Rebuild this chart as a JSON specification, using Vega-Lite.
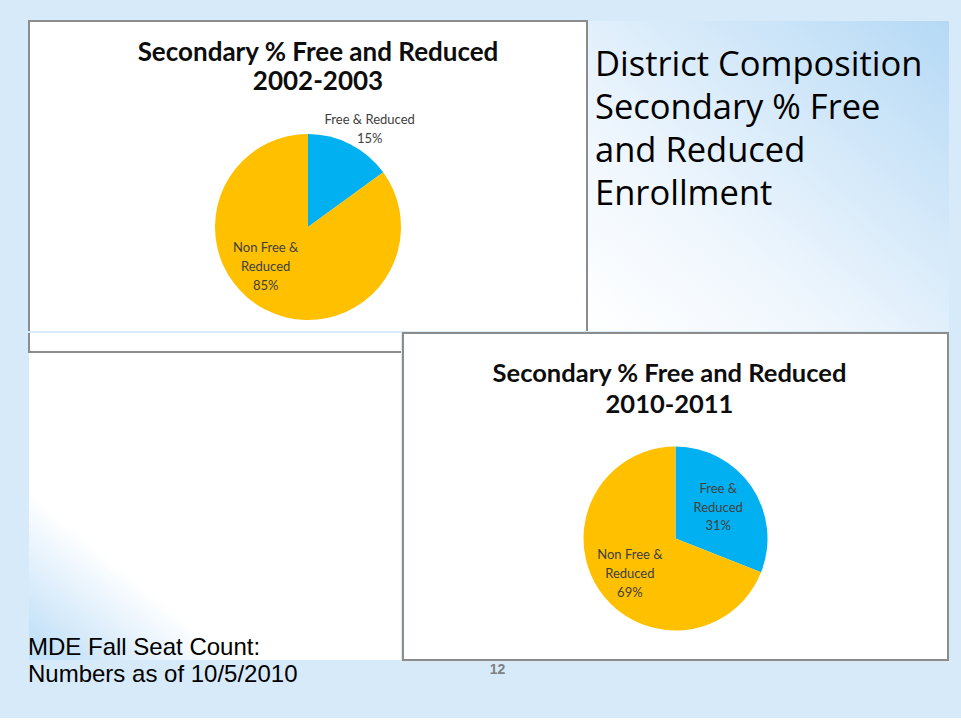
{
  "$schema": "https://vega.github.io/schema/vega-lite/v6.json",
  "background": "#d6eaf9",
  "padding": {"left": 28, "top": 20, "right": 12, "bottom": 31},
  "config": {
    "view": {"stroke": null},
    "concat": {"spacing": 0},
    "text": {"font": "Lato", "fontSize": 13, "color": "#404040", "lineBreak": "\n", "lineHeight": 19, "align": "center", "baseline": "middle"}
  },
  "datasets": {
    "y2002": [
      {"category": "Free & Reduced", "value": 15, "label": "Free & Reduced\n15%"},
      {"category": "Non Free & Reduced", "value": 85, "label": "Non Free &\nReduced\n85%"}
    ],
    "y2010": [
      {"category": "Free & Reduced", "value": 31, "label": "Free &\nReduced\n31%"},
      {"category": "Non Free & Reduced", "value": 69, "label": "Non Free &\nReduced\n69%"}
    ],
    "blank": [{"k": 1}]
  },
  "title": {"text": "12", "orient": "bottom", "anchor": "middle", "offset": -24, "dx": 9, "font": "Liberation Sans", "fontSize": 14, "fontWeight": "bold", "color": "#7f7f7f"},
  "spacing": 0,
  "vconcat": [
    {
      "spacing": 0,
      "hconcat": [
        {
          "width": 558,
          "height": 310,
          "view": {"stroke": "#8c8c8c", "strokeWidth": 2, "strokeDash": [868, 558, 400], "fill": "#ffffff"},
          "title": {"text": ["Secondary % Free and Reduced", "2002-2003"], "font": "Lato", "fontSize": 26, "fontWeight": "bold", "color": "#0d0d0d", "lineHeight": 29, "anchor": "middle", "offset": -74, "dx": 10, "frame": "group"},
          "data": {"name": "y2002"},
          "encoding": {
            "theta": {"field": "value", "type": "quantitative", "stack": true},
            "order": {"field": "category"}
          },
          "layer": [
            {"mark": {"type": "arc", "outerRadius": 93, "yOffset": 51},
             "encoding": {"color": {"field": "category", "type": "nominal", "legend": null, "scale": {"domain": ["Free & Reduced", "Non Free & Reduced"], "range": ["#00B0F0", "#FFC000"]}}}},
            {"mark": {"type": "text", "radius": 116, "yOffset": 51, "dx": 9, "dy": -4, "color": "#404040"},
             "encoding": {
               "text": {"condition": {"test": "datum.category === 'Free & Reduced'", "field": "label"}, "value": ""},
               "size": {"condition": {"test": "datum.category === 'Free & Reduced'", "value": 13}, "value": 0}
             }},
            {"mark": {"type": "text", "radius": 58, "yOffset": 51, "dx": -16, "dy": -31, "color": "#404040"},
             "encoding": {
               "text": {"condition": {"test": "datum.category === 'Non Free & Reduced'", "field": "label"}, "value": ""},
               "size": {"condition": {"test": "datum.category === 'Non Free & Reduced'", "value": 13}, "value": 0}
             }}
          ]
        },
        {
          "width": 361,
          "height": 310,
          "view": {"fill": {"gradient": "linear", "x1": 0, "y1": 1, "x2": 1, "y2": 0, "stops": [{"offset": 0, "color": "#ffffff"}, {"offset": 0.35, "color": "#eef6fd"}, {"offset": 1, "color": "#b5d9f5"}]}},
          "title": {"text": ["District Composition", "Secondary % Free", "and Reduced", "Enrollment"], "font": "Open Sans", "fontSize": 34.5, "fontWeight": "normal", "color": "#000000", "lineHeight": 43, "anchor": "start", "frame": "group", "dx": 7, "offset": -191},
          "data": {"name": "blank"},
          "mark": {"type": "text"},
          "encoding": {"text": {"value": ""}}
        }
      ]
    },
    {
      "spacing": 0,
      "hconcat": [
        {
          "spacing": 0,
          "vconcat": [
            {
              "width": 372,
              "height": 19,
              "view": {"stroke": "#8c8c8c", "strokeWidth": 2, "strokeDash": [0, 391, 391], "fill": "#ffffff"},
              "data": {"name": "blank"},
              "mark": {"type": "text"},
              "encoding": {"text": {"value": ""}}
            },
            {
              "width": 372,
              "height": 307,
              "view": {"fill": {"gradient": "linear", "x1": 0.6, "y1": 0.5, "x2": 0.1, "y2": 1, "stops": [{"offset": 0, "color": "#ffffff"}, {"offset": 0.55, "color": "#ffffff"}, {"offset": 1, "color": "#c6e2f8"}]}},
              "title": {"text": ["MDE Fall Seat Count:", "Numbers as of 10/5/2010"], "orient": "bottom", "anchor": "start", "frame": "group", "offset": -24, "dx": -1, "font": "Liberation Sans", "fontSize": 24, "fontWeight": "normal", "color": "#000000", "lineHeight": 27},
              "data": {"name": "blank"},
              "mark": {"type": "text"},
              "encoding": {"text": {"value": ""}}
            }
          ]
        },
        {
          "width": 545,
          "height": 327,
          "view": {"stroke": "#8c8c8c", "strokeWidth": 2, "fill": "#ffffff"},
          "title": {"text": ["Secondary % Free and Reduced", "2010-2011"], "font": "Lato", "fontSize": 25.5, "fontWeight": "bold", "color": "#0d0d0d", "lineHeight": 31, "anchor": "middle", "offset": -85, "dx": -6, "frame": "group"},
          "data": {"name": "y2010"},
          "encoding": {
            "theta": {"field": "value", "type": "quantitative", "stack": true},
            "order": {"field": "category"}
          },
          "layer": [
            {"mark": {"type": "arc", "outerRadius": 92, "yOffset": 42},
             "encoding": {"color": {"field": "category", "type": "nominal", "legend": null, "scale": {"domain": ["Free & Reduced", "Non Free & Reduced"], "range": ["#00B0F0", "#FFC000"]}}}},
            {"mark": {"type": "text", "radius": 54, "yOffset": 42, "dx": -2, "dy": -19, "lineHeight": 18.5, "color": "#404040"},
             "encoding": {"text": {"condition": {"test": "datum.category === 'Free & Reduced'", "field": "label"}, "value": ""}}},
            {"mark": {"type": "text", "radius": 54, "yOffset": 42, "dx": -1, "dy": -14, "color": "#404040"},
             "encoding": {"text": {"condition": {"test": "datum.category === 'Non Free & Reduced'", "field": "label"}, "value": ""}}}
          ]
        }
      ]
    }
  ]
}
